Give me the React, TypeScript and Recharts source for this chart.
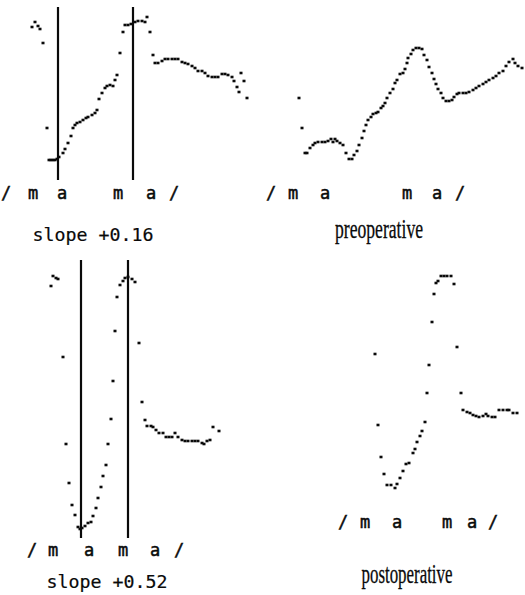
import { ReferenceLine, Scatter, ScatterChart, XAxis, YAxis } from 'recharts'

type Sample = [number, number]

// pitch traces, [time, frequency] in plot units
const slope016Samples: Sample[] = [
  [32, 153], [35, 158], [38, 154], [40, 151], [43, 137], [47, 52], [49, 20], [51, 20],
  [53, 20], [55, 20], [57, 21], [59, 23], [63, 27], [65, 31], [68, 37], [71, 44],
  [73, 52], [75, 55], [77, 57], [80, 58], [83, 60], [86, 62], [88, 63], [92, 65],
  [95, 67], [97, 70], [99, 81], [102, 87], [105, 92], [107, 94], [110, 95], [113, 94],
  [115, 100], [117, 105], [120, 127], [123, 148], [125, 155], [128, 155], [131, 156], [135, 158],
  [138, 159], [142, 159], [145, 158], [147, 163], [150, 148], [153, 125], [155, 117], [158, 117],
  [162, 119], [165, 121], [168, 121], [172, 121], [175, 121], [178, 121], [182, 118], [185, 117],
  [188, 116], [192, 114], [195, 112], [198, 109], [202, 109], [205, 107], [208, 104], [212, 103],
  [215, 103], [218, 103], [222, 106], [225, 106], [228, 105], [232, 103], [234, 99], [237, 93],
  [239, 88], [241, 107], [244, 99], [247, 82],
]

const preoperativeSamples: Sample[] = [
  [39, 82], [42, 52], [45, 27], [47, 27], [50, 32], [53, 35], [55, 37], [58, 38],
  [62, 38], [65, 38], [68, 39], [71, 41], [73, 38], [75, 41], [77, 39], [80, 37],
  [83, 35], [86, 27], [89, 21], [92, 21], [94, 25], [97, 29], [99, 35], [102, 42],
  [104, 49], [106, 55], [108, 60], [111, 63], [113, 66], [116, 67], [118, 68], [121, 72],
  [123, 74], [125, 77], [127, 82], [130, 87], [133, 91], [135, 97], [137, 100], [140, 106],
  [143, 107], [145, 111], [147, 117], [148, 122], [151, 126], [153, 130], [156, 132], [159, 132],
  [162, 131], [164, 125], [167, 120], [169, 113], [172, 107], [174, 101], [176, 96], [178, 91],
  [181, 87], [183, 82], [186, 79], [189, 79], [192, 80], [194, 83], [197, 86], [199, 87],
  [203, 87], [206, 87], [209, 88], [213, 90], [216, 92], [219, 94], [223, 96], [226, 98],
  [229, 100], [233, 102], [236, 104], [239, 107], [243, 109], [246, 114], [249, 118], [253, 121],
  [255, 117], [258, 114], [262, 112],
]

const slope052Samples: Sample[] = [
  [51, 252], [53, 262], [56, 260], [58, 259], [63, 181], [66, 94], [69, 55], [72, 33],
  [75, 23], [78, 11], [80, 9], [82, 10], [85, 12], [88, 15], [91, 16], [93, 22],
  [96, 30], [98, 40], [101, 51], [103, 62], [106, 73], [108, 94], [111, 119], [113, 157],
  [115, 207], [117, 241], [120, 253], [123, 257], [125, 260], [128, 261], [132, 259], [135, 256],
  [139, 195], [142, 136], [145, 118], [147, 112], [151, 112], [153, 111], [156, 108], [159, 105],
  [163, 105], [166, 101], [169, 101], [172, 101], [175, 105], [178, 101], [182, 98], [185, 97],
  [188, 97], [192, 97], [195, 97], [198, 97], [202, 95], [204, 94], [207, 97], [210, 98],
  [213, 111], [219, 107],
]

const postoperativeSamples: Sample[] = [
  [75, 146], [78, 75], [81, 43], [84, 26], [87, 15], [91, 15], [95, 12], [97, 16],
  [100, 22], [103, 29], [106, 36], [109, 37], [113, 47], [115, 51], [117, 58], [120, 64],
  [122, 69], [125, 78], [127, 107], [129, 135], [132, 178], [134, 206], [136, 217], [138, 219],
  [141, 224], [144, 224], [147, 224], [151, 224], [154, 216], [157, 153], [161, 107], [163, 90],
  [167, 88], [170, 87], [173, 85], [176, 84], [179, 83], [183, 84], [186, 86], [188, 84],
  [192, 83], [195, 83], [199, 90], [203, 90], [207, 90], [209, 90], [213, 87], [217, 87],
]

// segment boundaries marked on the slope plots
const slope016Markers = [58, 133]
const slope052Markers = [81, 128]

const segmentLabels = ['/', 'm', 'a', 'm', 'a', '/']
const slope016Ticks = [6, 33, 62, 118, 151, 174]
const preoperativeTicks = [11, 33, 65, 147, 177, 200]
const slope052Ticks = [32, 53, 89, 123, 155, 179]
const postoperativeTicks = [43, 65, 97, 147, 172, 193]

const MONO = '"DejaVu Sans Mono", "Liberation Mono", monospace'
const SERIF = '"Liberation Serif", "DejaVu Serif", serif'
const INK = '#0a0a0a'

type Caption = {
  text: string
  cx: number
  baseline: number
  width: number
  font: 'mono' | 'serif'
}

type WavePanelProps = {
  left: number
  top: number
  width: number
  height: number
  plotTop: number
  plotHeight: number
  samples: Sample[]
  ticks: number[]
  markers?: number[]
  tickBaseline: number
  caption: Caption
}

const SampleDot = (props: any) => {
  const { cx, cy } = props
  if (cx == null || cy == null) return null
  return <rect x={cx - 1.5} y={cy - 1.3} width={3} height={2.6} fill={INK} />
}

function WavePanel({
  left,
  top,
  width,
  height,
  plotTop,
  plotHeight,
  samples,
  ticks,
  markers = [],
  tickBaseline,
  caption,
}: WavePanelProps) {
  const data = samples.map(([x, y]) => ({ x, y }))

  const renderTick = (p: any) => {
    const i = ticks.indexOf(p.payload?.value)
    return (
      <text
        x={p.x}
        y={p.y}
        dy={tickBaseline}
        textAnchor="middle"
        fontFamily={MONO}
        fontSize={17}
        fill={INK}
        stroke={INK}
        strokeWidth={0.5}
      >
        {segmentLabels[i] ?? ''}
      </text>
    )
  }

  const renderCaption = (p: any) => {
    const vb = p.viewBox ?? { x: 0, y: 0 }
    const isMono = caption.font === 'mono'
    return (
      <text
        x={vb.x + caption.cx}
        y={vb.y + caption.baseline}
        textAnchor="middle"
        fontFamily={isMono ? MONO : SERIF}
        fontSize={isMono ? 18 : 27}
        fill={INK}
        stroke={INK}
        strokeWidth={isMono ? 0.2 : 0.3}
        textLength={caption.width}
        lengthAdjust="spacingAndGlyphs"
      >
        {caption.text}
      </text>
    )
  }

  return (
    <div style={{ position: 'absolute', left, top }}>
      <ScatterChart
        width={width}
        height={height}
        margin={{ top: plotTop, right: 0, bottom: 0, left: 0 }}
      >
        <XAxis
          type="number"
          dataKey="x"
          domain={[0, width]}
          ticks={ticks}
          interval={0}
          axisLine={false}
          tickLine={false}
          tickSize={0}
          tickMargin={0}
          height={height - plotTop - plotHeight}
          tick={renderTick}
          label={renderCaption}
        />
        <YAxis type="number" dataKey="y" domain={[0, plotHeight]} hide />
        {markers.map((m) => (
          <ReferenceLine key={m} x={m} stroke={INK} strokeWidth={2.2} />
        ))}
        <Scatter data={data} fill={INK} shape={SampleDot} isAnimationActive={false} />
      </ScatterChart>
    </div>
  )
}

export default function App() {
  return (
    <div
      style={{
        position: 'absolute',
        left: 0,
        top: 0,
        width: 525,
        height: 595,
        background: '#fff',
        overflow: 'hidden',
      }}
    >
      <WavePanel
        left={0}
        top={0}
        width={260}
        height={250}
        plotTop={7}
        plotHeight={173}
        samples={slope016Samples}
        ticks={slope016Ticks}
        markers={slope016Markers}
        tickBaseline={19}
        caption={{ text: 'slope +0.16', cx: 93, baseline: 61, width: 121, font: 'mono' }}
      />
      <WavePanel
        left={260}
        top={0}
        width={265}
        height={250}
        plotTop={7}
        plotHeight={173}
        samples={preoperativeSamples}
        ticks={preoperativeTicks}
        tickBaseline={19}
        caption={{ text: 'preoperative', cx: 119, baseline: 58, width: 88, font: 'serif' }}
      />
      <WavePanel
        left={0}
        top={250}
        width={260}
        height={345}
        plotTop={10}
        plotHeight={278}
        samples={slope052Samples}
        ticks={slope052Ticks}
        markers={slope052Markers}
        tickBaseline={18}
        caption={{ text: 'slope +0.52', cx: 107, baseline: 50, width: 121, font: 'mono' }}
      />
      <WavePanel
        left={300}
        top={250}
        width={225}
        height={345}
        plotTop={10}
        plotHeight={240}
        samples={postoperativeSamples}
        ticks={postoperativeTicks}
        tickBaseline={28}
        caption={{ text: 'postoperative', cx: 107, baseline: 83, width: 91, font: 'serif' }}
      />
    </div>
  )
}
